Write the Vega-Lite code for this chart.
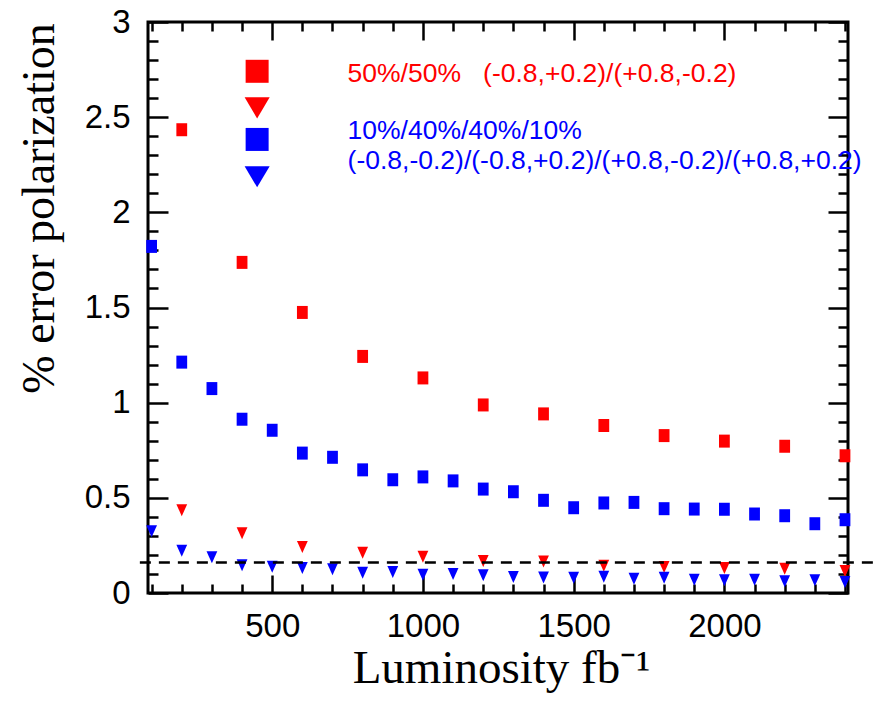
{
  "$schema": "https://vega.github.io/schema/vega-lite/v6.json",
  "autosize": {"type": "none"},
  "padding": {"left": 148, "top": 22, "right": 37, "bottom": 111},
  "width": 700,
  "height": 571,
  "background": "white",
  "config": {
    "view": {"stroke": "black", "strokeWidth": 3},
    "axis": {
      "grid": false,
      "domain": false,
      "tickColor": "black",
      "tickWidth": 2.5,
      "labelFont": "Liberation Sans",
      "labelFontSize": 33,
      "labelColor": "black",
      "labelOverlap": false
    }
  },
  "datasets": {
    "squares": [
      {"x": 200, "y": 2.434, "series": "A"},
      {"x": 400, "y": 1.737, "series": "A"},
      {"x": 600, "y": 1.474, "series": "A"},
      {"x": 800, "y": 1.243, "series": "A"},
      {"x": 1000, "y": 1.130, "series": "A"},
      {"x": 1200, "y": 0.988, "series": "A"},
      {"x": 1400, "y": 0.941, "series": "A"},
      {"x": 1600, "y": 0.880, "series": "A"},
      {"x": 1800, "y": 0.827, "series": "A"},
      {"x": 2000, "y": 0.798, "series": "A"},
      {"x": 2200, "y": 0.771, "series": "A"},
      {"x": 2400, "y": 0.721, "series": "A"},
      {"x": 100, "y": 1.821, "series": "B"},
      {"x": 200, "y": 1.213, "series": "B"},
      {"x": 300, "y": 1.074, "series": "B"},
      {"x": 400, "y": 0.913, "series": "B"},
      {"x": 500, "y": 0.855, "series": "B"},
      {"x": 600, "y": 0.735, "series": "B"},
      {"x": 700, "y": 0.713, "series": "B"},
      {"x": 800, "y": 0.647, "series": "B"},
      {"x": 900, "y": 0.595, "series": "B"},
      {"x": 1000, "y": 0.610, "series": "B"},
      {"x": 1100, "y": 0.589, "series": "B"},
      {"x": 1200, "y": 0.546, "series": "B"},
      {"x": 1300, "y": 0.532, "series": "B"},
      {"x": 1400, "y": 0.487, "series": "B"},
      {"x": 1500, "y": 0.448, "series": "B"},
      {"x": 1600, "y": 0.473, "series": "B"},
      {"x": 1700, "y": 0.476, "series": "B"},
      {"x": 1800, "y": 0.443, "series": "B"},
      {"x": 1900, "y": 0.441, "series": "B"},
      {"x": 2000, "y": 0.440, "series": "B"},
      {"x": 2100, "y": 0.415, "series": "B"},
      {"x": 2200, "y": 0.406, "series": "B"},
      {"x": 2300, "y": 0.364, "series": "B"},
      {"x": 2400, "y": 0.385, "series": "B"}
    ],
    "triangles": [
      {"x": 200, "y": 0.435, "series": "A"},
      {"x": 400, "y": 0.314, "series": "A"},
      {"x": 600, "y": 0.242, "series": "A"},
      {"x": 800, "y": 0.211, "series": "A"},
      {"x": 1000, "y": 0.191, "series": "A"},
      {"x": 1200, "y": 0.168, "series": "A"},
      {"x": 1400, "y": 0.165, "series": "A"},
      {"x": 1600, "y": 0.143, "series": "A"},
      {"x": 1800, "y": 0.136, "series": "A"},
      {"x": 2000, "y": 0.132, "series": "A"},
      {"x": 2200, "y": 0.128, "series": "A"},
      {"x": 2400, "y": 0.115, "series": "A"},
      {"x": 100, "y": 0.325, "series": "B"},
      {"x": 200, "y": 0.222, "series": "B"},
      {"x": 300, "y": 0.188, "series": "B"},
      {"x": 400, "y": 0.146, "series": "B"},
      {"x": 500, "y": 0.138, "series": "B"},
      {"x": 600, "y": 0.132, "series": "B"},
      {"x": 700, "y": 0.125, "series": "B"},
      {"x": 800, "y": 0.107, "series": "B"},
      {"x": 900, "y": 0.110, "series": "B"},
      {"x": 1000, "y": 0.096, "series": "B"},
      {"x": 1100, "y": 0.100, "series": "B"},
      {"x": 1200, "y": 0.093, "series": "B"},
      {"x": 1300, "y": 0.084, "series": "B"},
      {"x": 1400, "y": 0.082, "series": "B"},
      {"x": 1500, "y": 0.080, "series": "B"},
      {"x": 1600, "y": 0.086, "series": "B"},
      {"x": 1700, "y": 0.075, "series": "B"},
      {"x": 1800, "y": 0.080, "series": "B"},
      {"x": 1900, "y": 0.070, "series": "B"},
      {"x": 2000, "y": 0.067, "series": "B"},
      {"x": 2100, "y": 0.070, "series": "B"},
      {"x": 2200, "y": 0.062, "series": "B"},
      {"x": 2300, "y": 0.067, "series": "B"},
      {"x": 2400, "y": 0.058, "series": "B"}
    ],
    "refline": [
      {"x": 61, "x2": 2516, "y": 0.16}
    ],
    "legendSymbols": [
      {"x": 450, "y": 2.741, "series": "A", "marker": "square"},
      {"x": 450, "y": 2.549, "series": "A", "marker": "triangle"},
      {"x": 450, "y": 2.383, "series": "B", "marker": "square"},
      {"x": 450, "y": 2.187, "series": "B", "marker": "triangle"}
    ],
    "legendText": [
      {"x": 750, "y": 2.686, "series": "A", "label": "50%/50%\u00a0\u00a0\u00a0(-0.8,+0.2)/(+0.8,-0.2)"},
      {"x": 750, "y": 2.386, "series": "B", "label": "10%/40%/40%/10%"},
      {"x": 750, "y": 2.229, "series": "B", "label": "(-0.8,-0.2)/(-0.8,+0.2)/(+0.8,-0.2)/(+0.8,+0.2)"}
    ]
  },
  "resolve": {"axis": {"x": "independent", "y": "independent"}},
  "layer": [
    {
      "data": {"name": "squares"},
      "mark": {"type": "point", "filled": true, "opacity": 1, "shape": "M-0.83,-1H0.83V1H-0.83Z", "size": 169},
      "encoding": {
        "x": {
          "field": "x", "type": "quantitative",
          "scale": {"domain": [88, 2410], "nice": false, "zero": false},
          "axis": {
            "orient": "bottom", "values": [500, 1000, 1500, 2000], "format": "d",
            "ticks": false, "labelPadding": 17,
            "title": "Luminosity fb⁻¹", "titleFont": "Liberation Serif", "titleFontSize": 47,
            "titleFontWeight": "normal", "titleColor": "black",
            "titleX": 353, "titleY": 89, "titleAlign": "center", "titleBaseline": "alphabetic", "titleAngle": 0
          }
        },
        "y": {
          "field": "y", "type": "quantitative",
          "scale": {"domain": [0, 3], "nice": false, "zero": false},
          "axis": {
            "orient": "left", "values": [0, 0.5, 1, 1.5, 2, 2.5, 3], "format": "~g",
            "ticks": false, "labelPadding": 18,
            "title": "% error polarization", "titleFont": "Liberation Serif", "titleFontSize": 46,
            "titleFontWeight": "normal", "titleColor": "black",
            "titleAngle": -90, "titleX": -95, "titleY": 186, "titleAlign": "center", "titleBaseline": "alphabetic"
          }
        },
        "color": {"field": "series", "type": "nominal", "scale": {"domain": ["A", "B"], "range": ["#ff0000", "#0000ff"]}, "legend": null}
      }
    },
    {
      "data": {"name": "triangles"},
      "mark": {"type": "point", "filled": true, "opacity": 1, "shape": "M-0.9,-1H0.9L0,1Z", "size": 144},
      "encoding": {
        "x": {
          "field": "x", "type": "quantitative",
          "scale": {"domain": [88, 2410], "nice": false, "zero": false},
          "axis": {
            "orient": "bottom", "values": [500, 1000, 1500, 2000],
            "labels": false, "tickSize": 18, "offset": -18, "title": null
          }
        },
        "y": {
          "field": "y", "type": "quantitative",
          "scale": {"domain": [0, 3], "nice": false, "zero": false},
          "axis": {
            "orient": "left", "values": [0, 0.5, 1, 1.5, 2, 2.5, 3],
            "labels": false, "tickSize": 20, "offset": -20, "title": null
          }
        },
        "color": {"field": "series", "type": "nominal", "scale": {"domain": ["A", "B"], "range": ["#ff0000", "#0000ff"]}, "legend": null}
      }
    },
    {
      "data": {"name": "refline"},
      "mark": {"type": "rule", "color": "black", "strokeWidth": 2.5, "strokeDash": [11, 8]},
      "encoding": {
        "x": {
          "field": "x", "type": "quantitative",
          "scale": {"domain": [88, 2410], "nice": false, "zero": false},
          "axis": {
            "orient": "bottom", "values": [100, 200, 300, 400, 600, 700, 800, 900, 1100, 1200, 1300, 1400, 1600, 1700, 1800, 1900, 2100, 2200, 2300, 2400],
            "labels": false, "tickSize": 9, "offset": -9, "title": null
          }
        },
        "x2": {"field": "x2"},
        "y": {
          "field": "y", "type": "quantitative",
          "scale": {"domain": [0, 3], "nice": false, "zero": false},
          "axis": {
            "orient": "left", "values": [0.1, 0.2, 0.3, 0.4, 0.6, 0.7, 0.8, 0.9, 1.1, 1.2, 1.3, 1.4, 1.6, 1.7, 1.8, 1.9, 2.1, 2.2, 2.3, 2.4, 2.6, 2.7, 2.8, 2.9],
            "labels": false, "tickSize": 10, "offset": -10, "title": null
          }
        }
      }
    },
    {
      "data": {"name": "legendSymbols"},
      "mark": {"type": "point", "filled": true, "opacity": 1, "size": 529},
      "encoding": {
        "x": {
          "field": "x", "type": "quantitative",
          "scale": {"domain": [88, 2410], "nice": false, "zero": false},
          "axis": {
            "orient": "top", "values": [500, 1000, 1500, 2000],
            "labels": false, "tickSize": 18, "offset": -18, "title": null
          }
        },
        "y": {
          "field": "y", "type": "quantitative",
          "scale": {"domain": [0, 3], "nice": false, "zero": false},
          "axis": {
            "orient": "right", "values": [0, 0.5, 1, 1.5, 2, 2.5, 3],
            "labels": false, "tickSize": 20, "offset": -20, "title": null
          }
        },
        "shape": {"field": "marker", "type": "nominal", "scale": {"domain": ["square", "triangle"], "range": ["M-1,-1H1V1H-1Z", "M-1.09,-0.92H1.09L0,0.92Z"]}, "legend": null},
        "color": {"field": "series", "type": "nominal", "scale": {"domain": ["A", "B"], "range": ["#ff0000", "#0000ff"]}, "legend": null}
      }
    },
    {
      "data": {"name": "legendText"},
      "mark": {"type": "text", "align": "left", "baseline": "alphabetic", "font": "Liberation Sans", "fontSize": 26.5},
      "encoding": {
        "x": {
          "field": "x", "type": "quantitative",
          "scale": {"domain": [88, 2410], "nice": false, "zero": false},
          "axis": {
            "orient": "top", "values": [100, 200, 300, 400, 600, 700, 800, 900, 1100, 1200, 1300, 1400, 1600, 1700, 1800, 1900, 2100, 2200, 2300, 2400],
            "labels": false, "tickSize": 9, "offset": -9, "title": null
          }
        },
        "y": {
          "field": "y", "type": "quantitative",
          "scale": {"domain": [0, 3], "nice": false, "zero": false},
          "axis": {
            "orient": "right", "values": [0.1, 0.2, 0.3, 0.4, 0.6, 0.7, 0.8, 0.9, 1.1, 1.2, 1.3, 1.4, 1.6, 1.7, 1.8, 1.9, 2.1, 2.2, 2.3, 2.4, 2.6, 2.7, 2.8, 2.9],
            "labels": false, "tickSize": 10, "offset": -10, "title": null
          }
        },
        "text": {"field": "label"},
        "color": {"field": "series", "type": "nominal", "scale": {"domain": ["A", "B"], "range": ["#ff0000", "#0000ff"]}, "legend": null}
      }
    }
  ]
}
